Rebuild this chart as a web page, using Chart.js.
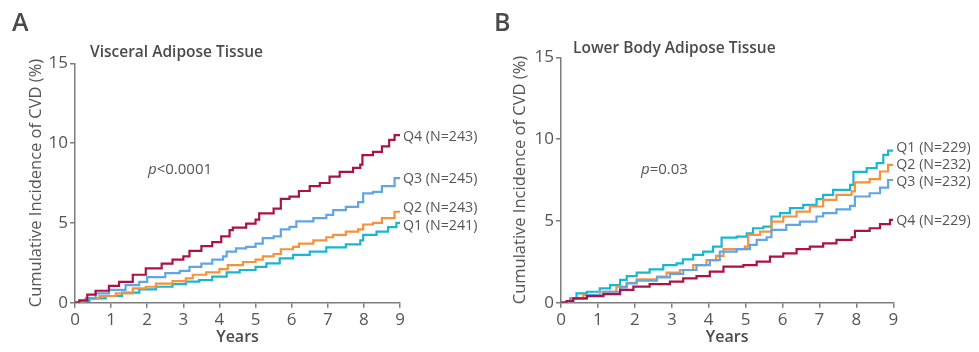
<!DOCTYPE html>
<html><head><meta charset="utf-8">
<script src="https://cdn.jsdelivr.net/npm/chart.js@4"></script>
<style>
html,body{margin:0;padding:0;background:#fff;}
body{width:979px;height:352px;position:relative;overflow:hidden;font-family:"Open Sans",sans-serif;color:#555;}
.cv{position:absolute;top:0;}
.t{position:absolute;white-space:nowrap;line-height:1;}
.letter{font-size:25px;font-weight:600;color:#4a4a4a;}
.sub{font-size:15.5px;font-weight:600;color:#4a4a4a;}
.pv{font-size:15px;color:#555;}
</style></head><body>
<canvas id="cA" class="cv" style="left:0" width="490" height="352"></canvas>
<canvas id="cB" class="cv" style="left:490px" width="489" height="352"></canvas>
<div class="t letter" style="left:12px;top:9px">A</div>
<div class="t letter" style="left:494px;top:9px">B</div>
<div class="t sub" style="left:90px;top:44px">Visceral Adipose Tissue</div>
<div class="t sub" style="left:573px;top:40px">Lower Body Adipose Tissue</div>
<div class="t pv" style="left:148px;top:161px"><i>p</i>&lt;0.0001</div>
<div class="t pv" style="left:641px;top:161px"><i>p</i>=0.03</div>
<script>
// ---- Panel A: Visceral Adipose Tissue ----
const vatQ1T = [0, 0.25, 0.4, 0.85, 1.3, 1.78, 2.24, 2.7, 3.07, 3.44, 3.8, 4.2, 4.56, 5.0, 5.3, 5.67, 6.04, 6.5, 6.96, 7.5, 7.9, 7.98, 8.35, 8.67, 8.9, 9.0];
const vatQ1V = [0, 0.1, 0.27, 0.42, 0.63, 0.84, 1.0, 1.17, 1.32, 1.42, 1.63, 1.9, 2.05, 2.25, 2.47, 2.78, 3.0, 3.2, 3.47, 3.66, 3.9, 4.25, 4.45, 4.73, 5.0, 5.0];
const vatQ2T = [0, 0.2, 0.3, 0.67, 1.13, 1.6, 1.96, 2.24, 2.7, 3.07, 3.26, 3.63, 4.0, 4.23, 4.65, 5.0, 5.2, 5.5, 5.7, 6.04, 6.2, 6.6, 6.96, 7.15, 7.5, 7.84, 7.98, 8.25, 8.5, 8.85, 9.0];
const vatQ2V = [0, 0.1, 0.27, 0.42, 0.58, 0.9, 1.0, 1.2, 1.35, 1.52, 1.75, 1.9, 2.1, 2.35, 2.55, 2.7, 2.9, 3.05, 3.35, 3.5, 3.7, 3.9, 4.1, 4.25, 4.45, 4.6, 4.9, 5.0, 5.3, 5.7, 5.75];
const vatQ3T = [0, 0.12, 0.3, 0.57, 0.94, 1.4, 1.78, 2.0, 2.5, 2.9, 3.17, 3.5, 3.8, 4.1, 4.2, 4.46, 4.74, 5.0, 5.2, 5.5, 5.7, 5.94, 6.13, 6.6, 6.96, 7.15, 7.5, 7.84, 7.98, 8.25, 8.5, 8.85, 9.0];
const vatQ3V = [0, 0.1, 0.27, 0.58, 0.8, 1.1, 1.3, 1.6, 1.85, 2.0, 2.25, 2.45, 2.7, 2.9, 3.2, 3.4, 3.5, 3.7, 4.05, 4.15, 4.6, 4.75, 5.1, 5.3, 5.5, 5.8, 6.0, 6.3, 6.85, 6.95, 7.3, 7.8, 7.85];
const vatQ4T = [0, 0.12, 0.34, 0.57, 0.94, 1.22, 1.6, 1.96, 2.4, 2.7, 3.0, 3.17, 3.5, 3.8, 4.05, 4.28, 4.37, 4.74, 5.0, 5.1, 5.5, 5.7, 5.94, 6.2, 6.5, 6.78, 7.05, 7.33, 7.7, 7.9, 7.96, 8.25, 8.5, 8.7, 8.85, 9.0];
const vatQ4V = [0, 0.15, 0.5, 0.75, 1.05, 1.3, 1.75, 2.15, 2.45, 2.7, 2.9, 3.25, 3.55, 3.8, 4.15, 4.55, 4.7, 4.95, 5.2, 5.6, 5.9, 6.5, 6.65, 7.0, 7.3, 7.5, 7.9, 8.2, 8.45, 8.65, 9.25, 9.45, 9.8, 10.2, 10.5, 10.5];
const vatLabels = ['Q1 (N=241)', 'Q2 (N=243)', 'Q3 (N=245)', 'Q4 (N=243)'];

// ---- Panel B: Lower Body Adipose Tissue ----
const lbQ1T = [0, 0.25, 0.42, 0.7, 1.05, 1.33, 1.6, 1.78, 2.05, 2.4, 2.77, 3.13, 3.3, 3.58, 3.85, 4.12, 4.35, 4.76, 5.03, 5.2, 5.48, 5.7, 5.93, 6.2, 6.56, 6.92, 7.1, 7.37, 7.83, 7.92, 8.28, 8.55, 8.73, 8.86, 9.0];
const lbQ1V = [0, 0.27, 0.57, 0.67, 0.88, 1.08, 1.39, 1.63, 1.84, 2.04, 2.3, 2.4, 2.65, 2.92, 3.12, 3.43, 3.98, 4.04, 4.24, 4.55, 4.65, 5.27, 5.47, 5.78, 5.98, 6.33, 6.59, 6.9, 7.2, 8.0, 8.22, 8.53, 9.04, 9.3, 9.3];
const lbQ2T = [0, 0.33, 0.6, 1.05, 1.5, 1.78, 2.05, 2.6, 2.86, 3.22, 3.58, 3.94, 4.2, 4.4, 4.98, 5.07, 5.39, 5.7, 6.02, 6.38, 6.74, 7.1, 7.46, 7.87, 7.96, 8.36, 8.64, 8.86, 9.0];
const lbQ2V = [0, 0.27, 0.47, 0.67, 0.98, 1.22, 1.43, 1.6, 1.84, 2.0, 2.3, 2.6, 2.86, 3.27, 3.43, 4.14, 4.35, 4.96, 5.27, 5.57, 5.88, 6.29, 6.59, 6.8, 7.35, 7.55, 8.02, 8.43, 8.43];
const lbQ3T = [0, 0.33, 0.7, 1.15, 1.6, 1.78, 2.05, 2.6, 2.95, 3.31, 3.67, 4.03, 4.3, 4.76, 5.12, 5.3, 5.57, 5.7, 6.1, 6.47, 6.92, 7.1, 7.46, 7.83, 7.96, 8.36, 8.64, 8.86, 9.0];
const lbQ3V = [0, 0.27, 0.47, 0.67, 0.94, 1.18, 1.35, 1.55, 1.76, 2.0, 2.3, 2.6, 3.12, 3.27, 3.53, 3.84, 4.0, 4.45, 4.76, 4.96, 5.27, 5.47, 5.71, 5.92, 6.49, 6.69, 7.04, 7.5, 7.5];
const lbQ4T = [0, 0.15, 0.33, 0.7, 1.15, 1.6, 1.96, 2.4, 2.95, 3.31, 3.67, 4.03, 4.4, 4.94, 5.3, 5.66, 6.02, 6.38, 6.74, 7.1, 7.46, 7.87, 7.96, 8.36, 8.64, 8.91, 9.0];
const lbQ4V = [0, 0.1, 0.27, 0.4, 0.53, 0.78, 0.98, 1.14, 1.29, 1.49, 1.63, 1.9, 2.2, 2.3, 2.51, 2.82, 3.02, 3.27, 3.43, 3.63, 3.84, 4.0, 4.39, 4.55, 4.8, 5.06, 5.06];
const lbLabels = ['Q1 (N=229)', 'Q2 (N=232)', 'Q3 (N=232)', 'Q4 (N=229)'];

const xTicks = [0, 1, 2, 3, 4, 5, 6, 7, 8, 9];
const yTicks = [0, 5, 10, 15];

const colors = ['#19b6d0', '#f7923c', '#62a5e4', '#ad1146'];
const FONT = '"Open Sans", sans-serif';
const TXT = '#555555';
const AX = '#7c7c7c';

function pts(t, v) { return t.map((x, i) => ({ x: x, y: v[i] })); }

const endLabelPlugin = {
  id: 'endLabels',
  afterDatasetsDraw(chart, args, opts) {
    const ctx = chart.ctx;
    const xs = chart.scales.x, ys = chart.scales.y;
    ctx.save();
    ctx.font = '14.2px ' + FONT;
    ctx.fillStyle = TXT;
    ctx.textBaseline = 'middle';
    ctx.textAlign = 'left';
    chart.data.datasets.forEach((ds, i) => {
      const last = ds.data[ds.data.length - 1];
      const px = xs.getPixelForValue(last.x) + 3;
      const py = ys.getPixelForValue(last.y) + opts.dy[i];
      ctx.fillText(ds.label, px, py);
    });
    ctx.restore();
  }
};

function makeChart(id, series, labels, area, dy, titleX) {
  const canvas = document.getElementById(id);
  const W = canvas.width, H = canvas.height;
  const order = [3, 2, 1, 0];
  return new Chart(canvas, {
    type: 'line',
    data: {
      datasets: series.map((s, i) => ({
        label: labels[i],
        data: pts(s[0], s[1]),
        borderColor: colors[i],
        backgroundColor: colors[i],
        borderWidth: 2.2,
        pointRadius: 0,
        stepped: true,
        fill: false,
        order: order[i]
      }))
    },
    options: {
      responsive: false,
      animation: false,
      devicePixelRatio: 1,
      layout: { padding: { left: 0, top: area.top, right: W - area.right, bottom: 0 } },
      plugins: {
        legend: { display: false },
        tooltip: { enabled: false },
        endLabels: { dy: dy }
      },
      scales: {
        x: {
          type: 'linear', min: 0, max: 9,
          afterBuildTicks: (s) => { s.ticks = xTicks.map(v => ({ value: v })); },
          afterFit: (s) => { s.height = H - area.bottom; },
          ticks: { color: TXT, font: { family: FONT, size: 17 }, padding: 2, maxRotation: 0 },
          grid: { drawOnChartArea: false, drawTicks: true, tickLength: 5, color: AX, lineWidth: 1.5 },
          border: { display: true, color: AX, width: 1.5 },
          title: { display: true, text: 'Years', color: '#4a4a4a', font: { family: FONT, size: 16, weight: '600' }, padding: { top: 0, bottom: 5 } }
        },
        y: {
          type: 'linear', min: 0, max: 15,
          afterBuildTicks: (s) => { s.ticks = yTicks.map(v => ({ value: v })); },
          afterFit: (s) => { s.width = area.left; },
          ticks: { color: TXT, font: { family: FONT, size: 17 }, padding: 2 },
          grid: { drawOnChartArea: false, drawTicks: true, tickLength: 5, color: AX, lineWidth: 1.5 },
          border: { display: true, color: AX, width: 1.5 },
          title: { display: true, text: 'Cumulative Incidence of CVD (%)', color: '#555', font: { family: FONT, size: 16.5 }, padding: { top: titleX - 9.9, bottom: 0 } }
        }
      }
    },
    plugins: [endLabelPlugin]
  });
}

makeChart('cA',
  [[vatQ1T, vatQ1V], [vatQ2T, vatQ2V], [vatQ3T, vatQ3V], [vatQ4T, vatQ4V]],
  vatLabels,
  { left: 75, right: 400, top: 63.3, bottom: 302.7 },
  [3, -3, 1.5, 1.5], 36);

makeChart('cB',
  [[lbQ1T, lbQ1V], [lbQ2T, lbQ2V], [lbQ3T, lbQ3V], [lbQ4T, lbQ4V]],
  lbLabels,
  { left: 71, right: 403.3, top: 57.3, bottom: 302.7 },
  [-2.5, 0, 2, 1], 30);
</script>
</body></html>
